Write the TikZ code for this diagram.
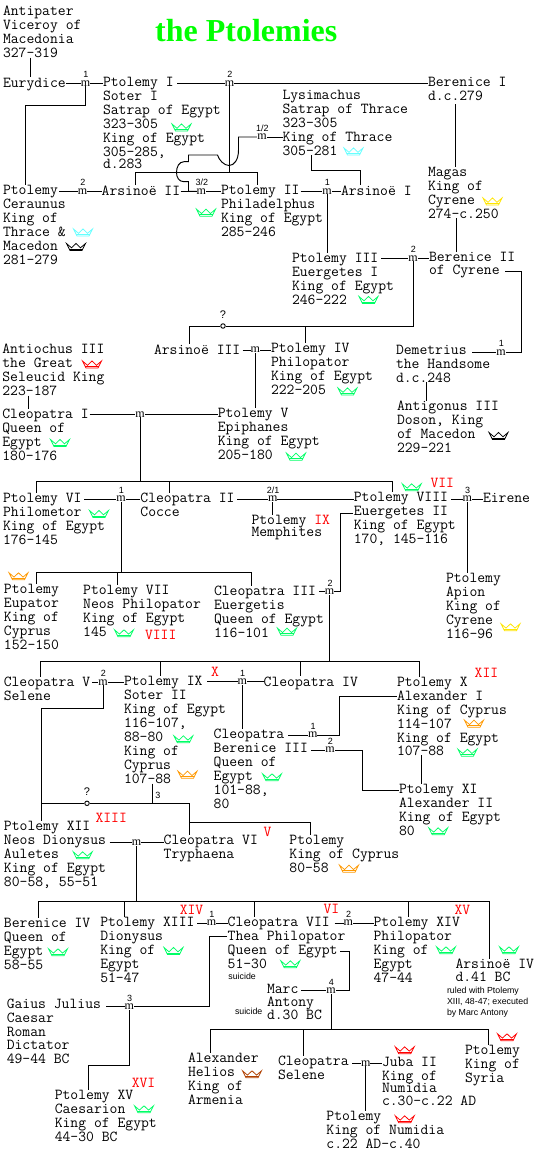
\documentclass[tikz,border=0pt]{standalone}
\usepackage{fontspec}
\newfontfamily\lserif{Liberation Serif}
\newfontfamily\lsans{Liberation Sans}
\definecolor{cg}{HTML}{00FF66}
\definecolor{cc}{HTML}{66FFFF}
\definecolor{cy}{HTML}{FFE600}
\definecolor{co}{HTML}{FF9900}
\definecolor{cr}{HTML}{FF0000}
\definecolor{cb}{HTML}{000000}
\definecolor{cn}{HTML}{B04000}
\pgfdeclarelayer{bg}
\pgfsetlayers{bg,main}
\tikzset{
  lab/.style={anchor=north west,inner sep=0pt,outer sep=0pt,align=left,yshift=10pt,
    font=\ttfamily\fontsize{15.24}{14}\selectfont,execute at begin node={\rule{0pt}{10pt}}},
  rn/.style={lab,text=red},
  titlelab/.style={anchor=base west,inner sep=0pt,text={rgb,255:red,0;green,255;blue,0},font=\lserif\bfseries\fontsize{32}{34}\selectfont},
  smalltxt/.style={anchor=north west,inner sep=0pt,outer sep=0pt,align=left,yshift=7pt,
    font=\lsans\fontsize{8.8}{11}\selectfont,execute at begin node={\rule{0pt}{7pt}}},
  marr/.style={inner sep=0pt,outer sep=0pt,fill=white,font=\lserif\fontsize{12}{12}\selectfont},
  circ/.style={circle,draw,line width=.9pt,inner sep=0pt,minimum size=4.5pt,fill=white},
  mlab/.style={inner sep=0pt,font=\lsans\fontsize{9}{9}\selectfont},
  conn/.style={line width=.95pt,line join=miter},
  pics/crown/.style={code={
    \draw[#1,line width=.75pt,line join=miter]
      (-9.5,-3.5) -- (-6,3.5) -- (6,3.5) -- (9.5,-3.5) -- (4.5,.8) -- (0,-3.5) -- (-4.5,.8) -- cycle;
    \draw[#1,line width=.6pt] (-6.8,2) -- (6.8,2);
  }}
}
\newcommand\mar[4]{\node[marr] (#1) at (#2,#3) {m};\node[mlab] (#1l) at (#2+.4,#3-8.8) {#4};}
\newcommand\marn[3]{\node[marr] (#1) at (#2,#3) {m};}
\begin{document}
\begin{tikzpicture}[x=1pt,y=-1pt]
\useasboundingbox (0,0) rectangle (534,1167);
\begin{pgfonlayer}{bg}\fill[white] (0,0) rectangle (534,1167);\end{pgfonlayer}

% title
\node[titlelab] (title) at (155,41) {the Ptolemies};

% people
\node[lab] (antip) at (3,16) {Antipater\\Viceroy of\\Macedonia\\327–319};
\node[lab] (eury) at (3,87) {Eurydice};
\node[lab] (ptol1) at (103,87) {Ptolemy I\\Soter I\\Satrap of Egypt\\323–305\\King of Egypt\\305–285,\\[-2pt]d.283};
\node[lab] (lysi) at (282.5,100) {Lysimachus\\Satrap of Thrace\\323–305\\King of Thrace\\305–281};
\node[lab] (ber1) at (428,87) {Berenice I\\d.c.279};
\node[lab] (cerau) at (3,195) {Ptolemy\\Ceraunus\\King of\\Thrace \&\\Macedon\\281–279};
\node[lab] (ars2) at (101.7,195) {Arsinoë II};
\node[lab] (ptol2) at (221,195) {Ptolemy II\\Philadelphus\\King of Egypt\\285–246};
\node[lab] (ars1) at (341,195) {Arsinoë I};
\node[lab] (magas) at (428,177) {Magas\\King of\\Cyrene\\274–c.250};
\node[lab] (ptol3) at (292,263) {Ptolemy III\\Euergetes I\\King of Egypt\\246–222};
\node[lab] (ber2) at (429,262) {Berenice II\\[-1pt]of Cyrene};
\node[lab] (ars3) at (154,354) {Arsinoë III};
\node[lab] (ptol4) at (271,353) {Ptolemy IV\\Philopator\\King of Egypt\\222–205};
\node[lab] (antio) at (2.4,354) {Antiochus III\\the Great\\Seleucid King\\223–187};
\node[lab] (cleo1) at (2.4,419) {Cleopatra I\\Queen of\\Egypt\\180–176};
\node[lab] (ptol5) at (217.8,418) {Ptolemy V\\Epiphanes\\King of Egypt\\205–180};
\node[lab] (demet) at (396,355) {Demetrius\\the Handsome\\d.c.248};
\node[lab] (antig) at (397,411) {Antigonus III\\Doson, King\\of Macedon\\229–221};
\node[lab] (ptol6) at (3,502.7) {Ptolemy VI\\Philometor\\King of Egypt\\176–145};
\node[lab] (cleo2) at (140.4,502.7) {Cleopatra II\\Cocce};
\node[lab] (memph) at (251.5,525) {Ptolemy \textcolor{red}{IX}\\[-2pt]Memphites};
\node[lab] (ptol8) at (353.8,502.3) {Ptolemy VIII\\Euergetes II\\King of Egypt\\170, 145–116};
\node[lab] (eirene) at (483,502.3) {Eirene};
\node[lab] (eupat) at (4,594) {Ptolemy\\Eupator\\King of\\Cyprus\\152–150};
\node[lab] (ptol7) at (83.2,595) {Ptolemy VII\\Neos Philopator\\King of Egypt\\145};
\node[lab] (cleo3) at (214,595.7) {Cleopatra III\\Euergetis\\Queen of Egypt\\116–101};
\node[lab] (apion) at (446,582.7) {Ptolemy\\Apion\\King of\\Cyrene\\116–96};
\node[lab] (cleo5) at (3.8,686.7) {Cleopatra V\\Selene};
\node[lab] (ptol9) at (124,686) {Ptolemy IX\\Soter II\\King of Egypt\\116–107,\\88–80\\King of\\Cyprus\\107–88};
\node[lab] (cleo4) at (263.7,686) {Cleopatra IV};
\node[lab] (cleob) at (213.7,739) {Cleopatra\\Berenice III\\Queen of\\Egypt\\101–88,\\80};
\node[lab] (ptol10) at (397,686.7) {Ptolemy X\\Alexander I\\King of Cyprus\\114–107\\King of Egypt\\[-1pt]107–88};
\node[lab] (ptol11) at (399,794) {Ptolemy XI\\Alexander II\\King of Egypt\\80};
\node[lab] (ptol12) at (4,830.7) {Ptolemy XII\\Neos Dionysus\\Auletes\\King of Egypt\\80–58, 55–51};
\node[lab] (cleo6) at (163.7,844.7) {Cleopatra VI\\Tryphaena};
\node[lab] (ptolc) at (289.4,844.7) {Ptolemy\\King of Cyprus\\80–58};
\node[lab] (ber4) at (4,927.7) {Berenice IV\\Queen of\\Egypt\\58–55};
\node[lab] (ptol13) at (100.3,927) {Ptolemy XIII\\Dionysus\\King of\\Egypt\\51–47};
\node[lab] (cleo7) at (227.7,927) {Cleopatra VII\\Thea Philopator\\Queen of Egypt\\51–30};
\node[lab] (ptol14) at (373.6,927) {Ptolemy XIV\\Philopator\\King of\\Egypt\\47–44};
\node[lab] (ars4) at (455.5,968.7) {Arsinoë IV\\[-1pt]d.41 BC};
\node[lab] (gaius) at (6.8,1009) {Gaius Julius\\Caesar\\Roman\\[-1pt]Dictator\\49–44 BC};
\node[lab] (ptol15) at (54.8,1100) {Ptolemy XV\\Caesarion\\King of Egypt\\44–30 BC};
\node[lab] (marc) at (267,993.7) {Marc\\[-1pt]Antony\\[-1pt]d.30 BC};
\node[lab] (alex) at (188,1062.7) {Alexander\\Helios\\King of\\Armenia};
\node[lab] (cleos) at (278,1065.7) {Cleopatra\\Selene};
\node[lab] (juba) at (382,1066.7) {Juba II\\King of\\[-2pt]Numidia\\[-1pt]c.30–c.22 AD};
\node[lab] (ptols) at (465,1055) {Ptolemy\\King of\\Syria};
\node[lab] (ptoln) at (326.4,1120.7) {Ptolemy\\King of Numidia\\c.22 AD–c.40};

% small notes
\node[smalltxt] (sui1) at (228.4,979.3) {suicide};
\node[smalltxt] (sui2) at (235,1014.7) {suicide};
\node[smalltxt] (note) at (447,993.7) {ruled with Ptolemy\\XIII, 48-47; executed\\by Marc Antony};

% red numerals
\node[rn] (r7) at (430.5,487.7) {VII};
\node[rn] (r8) at (145,639) {VIII};
\node[rn] (r10) at (211,676.7) {X};
\node[rn] (r12) at (474.7,677.3) {XII};
\node[rn] (r13) at (95.5,822.7) {XIII};
\node[rn] (r5) at (263.7,836) {V};
\node[rn] (r14) at (179.8,914.3) {XIV};
\node[rn] (r6) at (323.6,913.3) {VI};
\node[rn] (r15) at (454.5,914.3) {XV};
\node[rn] (r16) at (131.8,1087.3) {XVI};

% marriages
\mar{m1}{85.6}{83.5}{1}
\mar{m2}{229.5}{83.5}{2}
\mar{m12}{262}{137}{1/2}
\mar{m32}{201.4}{191.3}{3/2}
\mar{mc}{82.5}{191.3}{2}
\mar{m4}{327}{191.3}{1}
\mar{m3}{413}{258.3}{2}
\node[circ] (mq) at (223,326) {};
\node[mlab,font=\lsans\fontsize{11}{11}\selectfont] (mql) at (223,315) {?};
\marn{ma3}{255.3}{350}
\mar{mdem}{501}{352.3}{1}
\marn{mc1}{140}{414.3}
\mar{m6}{121}{499}{1}
\mar{m21}{272.8}{499}{2/1}
\mar{m8}{467.3}{499}{3}
\mar{mc3}{329.6}{591.7}{2}
\mar{m5}{103}{682.3}{2}
\mar{m9}{242.3}{681.7}{1}
\mar{mb1}{312.7}{735}{1}
\mar{mb2}{330}{750}{2}
\node[circ] (mq2) at (87,803.3) {};
\node[mlab,font=\lsans\fontsize{11}{11}\selectfont] (mq2l) at (87,792) {?};
\node[mlab] (three) at (157.9,795) {3};
\marn{m12b}{136.5}{842.7}
\mar{m13}{211.6}{923}{1}
\mar{m14}{348.3}{923}{2}
\mar{mg}{129.2}{1006.7}{3}
\mar{mm}{331}{990.7}{4}
\marn{mj}{365.8}{1063.3}

% crowns
\pic at (181.5,127.5) {crown=cg};
\pic at (353.5,151.5) {crown=cc};
\pic at (83,232.5) {crown=cc};
\pic at (76,247) {crown=cb};
\pic at (206,212.7) {crown=cg};
\pic at (492.5,201.5) {crown=cy};
\pic at (368.5,300) {crown=cg};
\pic at (347.5,391.5) {crown=cg};
\pic at (92,364.5) {crown=cr};
\pic at (60,443) {crown=cg};
\pic at (296,456.7) {crown=cg};
\pic at (498.5,436) {crown=cb};
\pic at (99,514) {crown=cg};
\pic at (411.7,487.3) {crown=cg};
\pic at (18.5,576.3) {crown=co};
\pic at (124,633.3) {crown=cg};
\pic at (287,631.7) {crown=cg};
\pic at (510.5,627.3) {crown=cy};
\pic at (183.4,739.3) {crown=cg};
\pic at (187.5,774.7) {crown=co};
\pic at (272,777.3) {crown=cg};
\pic at (474,723.7) {crown=co};
\pic at (467.4,752.7) {crown=cg};
\pic at (438.2,831.3) {crown=cg};
\pic at (82.7,855.3) {crown=cg};
\pic at (349,868.7) {crown=co};
\pic at (58,952.3) {crown=cg};
\pic at (173.5,951) {crown=cg};
\pic at (290.3,964.3) {crown=cg};
\pic at (446,950.3) {crown=cg};
\pic at (509,950.3) {crown=cg};
\pic at (144,1109.3) {crown=cg};
\pic at (507,1037.3) {crown=cr};
\pic at (252,1074.3) {crown=cn};
\pic at (404.7,1050.3) {crown=cr};
\pic at (404.7,1119.3) {crown=cr};

% named junctions and free ends
\coordinate (xan) at (30.5,0);
\coordinate (e1) at (177,83.5);
\coordinate (bus1l) at (135,172.7);
\coordinate (bus1r) at (257,172.7);
\coordinate (a2) at (25.7,105.3);
\coordinate (ec) at (59,191.3);
\coordinate (ea2) at (180.5,191.3);
\coordinate (ep2) at (300.7,191.3);
\coordinate (l1) at (311,170.7);
\coordinate (l2) at (360,170.7);
\coordinate (xb) at (455,0);
\coordinate (xm) at (456,0);
\coordinate (ep3) at (381,258.3);
\coordinate (bl) at (189.4,326);
\coordinate (xp4) at (305.8,0);
\coordinate (eb) at (505,271);
\coordinate (br1) at (521.6,271);
\coordinate (ed) at (472,352.3);
\coordinate (ea3) at (242.5,350);
\coordinate (xa) at (28.4,0);
\coordinate (ec1) at (89.7,414.3);
\coordinate (b6l) at (36.6,481.7);
\coordinate (b6r) at (392.5,481.7);
\coordinate (xc2) at (169,0);
\coordinate (xd) at (426.7,0);
\coordinate (ep6) at (84,499);
\coordinate (ec2) at (237,499);
\coordinate (ep8) at (451.4,499);
\coordinate (eu1) at (352.7,513.3);
\coordinate (eu2) at (340,513.3);
\coordinate (ec3) at (319,591.7);
\coordinate (b7l) at (36.6,572.3);
\coordinate (b7r) at (251,572.3);
\coordinate (x7) at (117,0);
\coordinate (b8l) at (40.4,661.3);
\coordinate (b8r) at (419.5,661.3);
\coordinate (x9) at (160.3,0);
\coordinate (xc4) at (300,0);
\coordinate (ec5) at (91.8,682.3);
\coordinate (ep9) at (207,681.7);
\coordinate (s1) at (41.8,708.3);
\coordinate (ecb) at (288.4,735);
\coordinate (t1) at (339.4,696.7);
\coordinate (eb3) at (311,750);
\coordinate (t2) at (362.3,790.3);
\coordinate (x10) at (421.6,0);
\coordinate (s2) at (41.8,803.3);
\coordinate (u1) at (189.4,803.3);
\coordinate (u2) at (189.4,822.3);
\coordinate (u3) at (310.3,822.3);
\coordinate (x3) at (152,0);
\coordinate (ep12) at (109.6,842.7);
\coordinate (b9l) at (38.7,901.3);
\coordinate (b9r) at (489,901.3);
\coordinate (x13) at (124,0);
\coordinate (xc7) at (254.8,0);
\coordinate (x14) at (408.6,0);
\coordinate (ep13) at (197,923);
\coordinate (ec7) at (334.6,923);
\coordinate (th1) at (227,936);
\coordinate (th2) at (209,936);
\coordinate (eg) at (105.5,1006.7);
\coordinate (v1) at (88.7,1065.3);
\coordinate (q1) at (340,951.3);
\coordinate (q2) at (349.7,951.3);
\coordinate (em) at (301.4,990.7);
\coordinate (b10l) at (210.6,1029.7);
\coordinate (b10r) at (488,1029.7);
\coordinate (xcs) at (303,0);
\coordinate (ecs) at (352,1063.3);

\begin{pgfonlayer}{bg}
\begin{scope}[conn]
\draw (xan |- antip.south) -- (xan |- eury.north);
\draw (m1 -| eury.east) -- (m1) -- (m1 -| ptol1.west);
\draw (e1) -- (m2) -- (m2 -| ber1.west);
\draw (m2) -- (m2 |- bus1l);
\draw (bus1l |- ars2.north) -- (bus1l) -- (bus1r) -- (bus1r |- ptol2.north);
\draw (m12) -- (m12 -| lysi.west);
\draw (m12) -- (238.5,137) -- (238.5,150) .. controls (238.5,160) and (234,165.5) .. (229,165.5)
  .. controls (224,165.5) and (219,160) .. (217.5,155) -- (188.5,155) -- (188.5,161.7) -- (184,161.7)
  .. controls (179,161.7) and (176.5,167) .. (176.5,172.5)
  .. controls (176.5,177.5) and (179,181.7) .. (184,181.7) -- (188.5,181.7) -- (188.5,191.3) -- (m32);
\draw (ec) -- (mc) -- (mc -| ars2.west);
\draw (m1) |- (a2) -- (a2 |- cerau.north);
\draw (ea2) -- (m32) -- (m32 -| ptol2.west);
\draw (ep2) -- (m4) -- (m4 -| ars1.west);
\draw (l1 |- lysi.south) -- (l1) -- (l2) -- (l2 |- ars1.north);
\draw (m4) -- (m4 |- ptol3.north);
\draw[shorten <=4pt] (xb |- ber1.south) -- (xb |- magas.north);
\draw (xm |- magas.south) -- (xm |- ber2.north);
\draw (ep3) -- (m3) -- (m3 -| ber2.west);
\draw (m3) |- (mq) -- (bl) -- (bl |- ars3.north);
\draw (xp4 |- mq) -- (xp4 |- ptol4.north);
\draw (eb) -- (br1) -- (br1 |- mdem) -- (mdem) -- (ed);
\draw (ea3) -- (ma3) -- (ma3 -| ptol4.west);
\draw (ma3) -- (ma3 |- ptol5.north);
\draw (xa |- antio.south) -- (xa |- cleo1.north);
\draw (ec1) -- (mc1) -- (mc1 -| ptol5.west);
\draw (mc1) -- (mc1 |- b6l);
\draw (b6l |- ptol6.north) -- (b6l) -- (b6r) -- (b6r |- ptol8.north);
\draw (xc2 |- b6l) -- (xc2 |- cleo2.north);
\draw (xd |- demet.south) -- (xd |- antig.north);
\draw (ep6) -- (m6) -- (m6 -| cleo2.west);
\draw (ec2) -- (m21) -- (m21 -| ptol8.west);
\draw (m21) -- (m21 |- memph.north);
\draw (ep8) -- (m8) -- (m8 -| eirene.west);
\draw (m8) -- (m8 |- apion.north);
\draw (eu1) -- (eu2) -- (eu2 |- mc3) -- (mc3) -- (ec3);
\draw (m6) -- (m6 |- b7l);
\draw (b7l |- eupat.north) -- (b7l) -- (b7r) -- (b7r |- cleo3.north);
\draw (x7 |- b7l) -- (x7 |- ptol7.north);
\draw (mc3) -- (mc3 |- b8l);
\draw (b8l |- cleo5.north) -- (b8l) -- (b8r) -- (b8r |- ptol10.north);
\draw (x9 |- b8l) -- (x9 |- ptol9.north);
\draw (xc4 |- b8l) -- (xc4 |- cleo4.north);
\draw (ec5) -- (m5) -- (m5 -| ptol9.west);
\draw (ep9) -- (m9) -- (m9 -| cleo4.west);
\draw (m9) -- (m9 |- cleob.north);
\draw (m5) |- (s1) -- (s1 |- ptol12.north);
\draw (ecb) -- (mb1) -| (t1) -- (t1 -| ptol10.west);
\draw (eb3) -- (mb2) -| (t2) -- (t2 -| ptol11.west);
\draw (x10 |- ptol10.south) -- (x10 |- ptol11.north);
\draw (s2) -- (mq2) -- (u1) -- (u1 |- cleo6.north);
\draw (u2) -- (u3) -- (u3 |- ptolc.north);
\draw (x3 |- ptol9.south) -- (x3 |- u1);
\draw (ep12) -- (m12b) -- (m12b -| cleo6.west);
\draw (m12b) -- (m12b |- b9l);
\draw (b9l |- ber4.north) -- (b9l) -- (b9r) -- (b9r |- ars4.north);
\draw (x13 |- b9l) -- (x13 |- ptol13.north);
\draw (xc7 |- b9l) -- (xc7 |- cleo7.north);
\draw (x14 |- b9l) -- (x14 |- ptol14.north);
\draw (ep13) -- (m13) -- (m13 -| cleo7.west);
\draw (ec7) -- (m14) -- (m14 -| ptol14.west);
\draw (th1) -- (th2) -- (th2 |- mg) -- (mg) -- (eg);
\draw (mg) |- (v1) -- (v1 |- ptol15.north);
\draw (q1) -- (q2) -- (q2 |- mm) -- (mm) -- (em);
\draw (mm) -- (mm |- b10l);
\draw (b10l |- alex.north) -- (b10l) -- (b10r) -- (b10r |- ptols.north);
\draw (xcs |- b10l) -- (xcs |- cleos.north);
\draw (ecs) -- (mj) -- (mj -| juba.west);
\draw (mj) -- (mj |- ptoln.north);
\end{scope}
\end{pgfonlayer}
\end{tikzpicture}
\end{document}
